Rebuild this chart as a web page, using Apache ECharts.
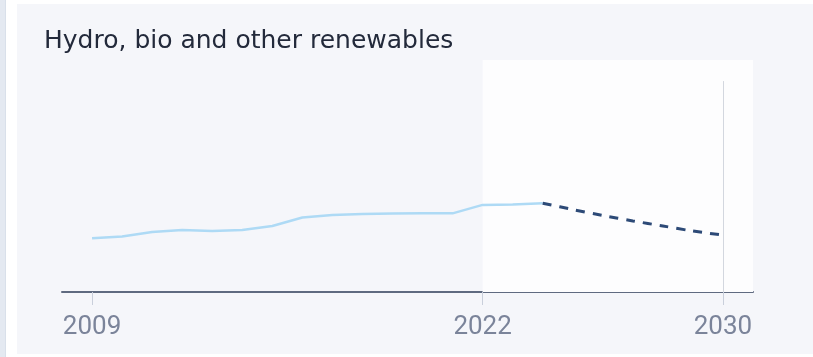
<!DOCTYPE html>
<html>
<head>
<meta charset="utf-8">
<script src="https://cdn.jsdelivr.net/npm/echarts@6/dist/echarts.min.js"></script>
<style>
  html, body { margin: 0; padding: 0; background: #ffffff; }
  #strip { position: absolute; left: 0; top: 0; width: 5px; height: 357px; background: #e4e9f1; border-right: 1px solid #d9e0ea; }
  #panel { position: absolute; left: 17px; top: 4px; width: 796px; height: 350px; background: #f5f6fa; }
  #chart { position: absolute; left: 0; top: 0; width: 813px; height: 357px; }
</style>
</head>
<body>
<div id="strip"></div>
<div id="panel"></div>
<div id="chart"></div>
<script>
const historyYears = [2009, 2010, 2011, 2012, 2013, 2014, 2015, 2016, 2017, 2018, 2019, 2020, 2021, 2022, 2023, 2024];
const historyValues = [25.5, 26.3, 28.4, 29.4, 28.9, 29.4, 31.3, 35.3, 36.5, 37.0, 37.2, 37.3, 37.3, 41.3, 41.5, 42.1];
const forecastYears = [2024, 2025, 2026, 2027, 2028, 2029, 2030];
const forecastValues = [42.1, 39.1, 36.3, 33.7, 31.3, 28.9, 27.0];
const tickYears = [2009, 2022, 2030];

const chart = echarts.init(document.getElementById('chart'), null, { renderer: 'canvas' });

const option = {
  backgroundColor: 'transparent',
  animation: false,
  title: {
    text: 'Hydro, bio and other renewables',
    left: 39,
    top: 24,
    textStyle: { fontFamily: 'DejaVu Sans', fontSize: 25, fontWeight: 'normal', color: '#232a3b' }
  },
  grid: { left: 62, right: 60, top: 60, bottom: 65 },
  xAxis: {
    type: 'value',
    min: 2008,
    max: 2031,
    axisLine: { show: true, lineStyle: { color: '#5f6a80', width: 2 } },
    axisTick: { show: true, customValues: tickYears, length: 13, lineStyle: { color: '#c9cfdb', width: 1 } },
    axisLabel: {
      customValues: tickYears,
      margin: 22,
      fontFamily: 'Roboto',
      fontSize: 26,
      color: '#7b849a',
      formatter: v => String(v)
    },
    splitLine: { show: false }
  },
  yAxis: {
    type: 'value',
    min: 0,
    max: 110,
    show: false,
    splitLine: { show: false }
  },
  series: [
    {
      type: 'line',
      data: historyYears.map((y, i) => [y, historyValues[i]]),
      showSymbol: false,
      lineStyle: { color: '#aedaf5', width: 2.5 },
      z: 3,
      markArea: {
        silent: true,
        itemStyle: { color: '#fdfdfe' },
        data: [[{ xAxis: 2022 }, { xAxis: 2031 }]]
      },
      markLine: {
        silent: true,
        symbol: 'none',
        label: { show: false },
        lineStyle: { color: '#d3d7df', width: 1, type: 'solid' },
        data: [[{ coord: [2030, 100] }, { coord: [2030, 0] }]]
      }
    },
    {
      type: 'line',
      data: forecastYears.map((y, i) => [y, forecastValues[i]]),
      showSymbol: false,
      smooth: 0.3,
      lineStyle: { color: '#2d4a77', width: 3, type: [9, 8] },
      z: 4
    }
  ]
};

chart.setOption(option);
</script>
</body>
</html>
